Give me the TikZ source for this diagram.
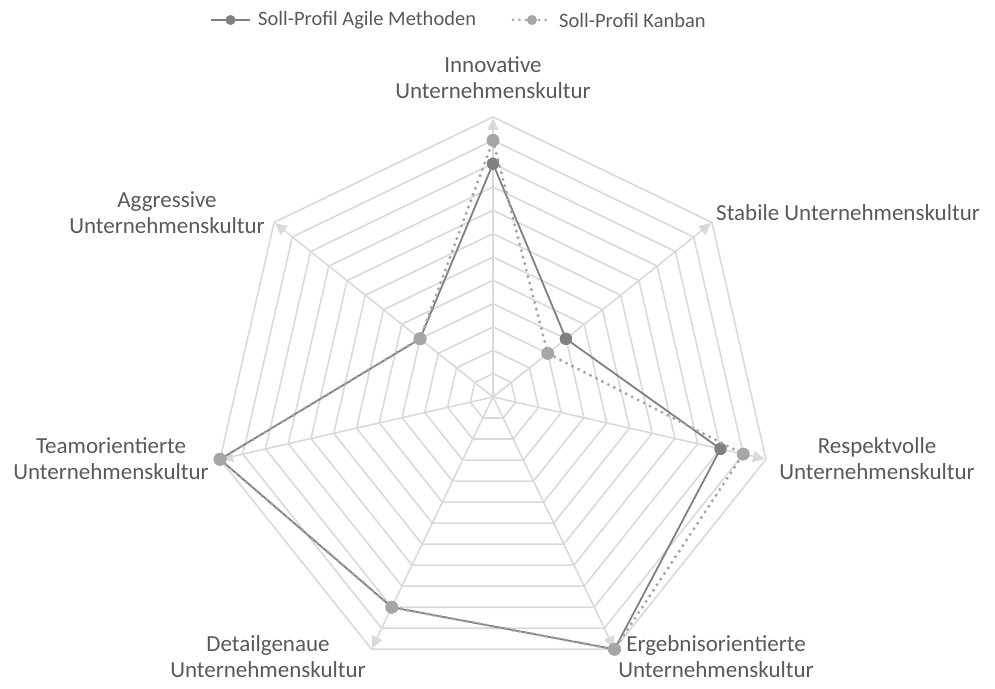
\documentclass[tikz,border=0pt]{standalone}
\usepackage{fontspec}
\setmainfont{Carlito}
\usetikzlibrary{arrows.meta}
\definecolor{gridgray}{HTML}{D9D9D9}
\definecolor{agilegray}{HTML}{808080}
\definecolor{kanbangray}{HTML}{A6A6A6}
\definecolor{labelgray}{HTML}{595959}

\begin{document}
\begin{tikzpicture}[x=1pt,y=1pt,
  ring/.style={draw=gridgray, line width=1.6pt, line join=miter},
  spoke/.style={draw=gridgray, line width=1.6pt, -{Triangle[length=12pt,width=11pt]}},
  agileline/.style={draw=agilegray, line width=1.8pt, line join=round},
  kanbanline/.style={draw=kanbangray, line width=3.4pt, dash pattern=on 0pt off 6.7pt, line cap=round},
  agiledot/.style={circle, fill=agilegray, inner sep=0pt, minimum size=12.5pt},
  kanbandot/.style={circle, fill=kanbangray, inner sep=0pt, minimum size=13pt},
  legdot/.style={circle, inner sep=0pt, minimum size=10pt},
  axislabel/.style={text=labelgray, font=\fontsize{23}{26}\selectfont, align=center, inner sep=0pt},
  legtext/.style={text=labelgray, font=\fontsize{20.5}{24}\selectfont, anchor=west, inner sep=0pt},
]
\useasboundingbox (0,0) rectangle (995,688);
\def\R{280}
\def\st{23.3333}
\coordinate (C) at (493,291);

\begin{scope}[shift={(C)}]
  % concentric heptagons of the scale
  \foreach \i in {1,...,12} {
    \pgfmathsetmacro\r{\R*\i/12}
    \draw[ring] (90:\r) \foreach \k in {1,...,6} { -- ({90-\k*360/7}:\r) } -- cycle;
  }
  % axes
  \foreach \k in {0,...,6} {
    \draw[spoke] (0,0) -- ({90-\k*360/7}:{\R-1});
  }

  % data points: Agile Methoden
  \foreach \v [count=\k from 0] in {10,4,10,12,10,12,4} {
    \coordinate (a\k) at ({90-\k*360/7}:{\v*\st});
  }
  % data points: Kanban
  \foreach \v [count=\k from 0] in {11,3,11,12,10,12,4} {
    \coordinate (b\k) at ({90-\k*360/7}:{\v*\st});
  }
\end{scope}

\draw[agileline] (a0) -- (a1) -- (a2) -- (a3) -- (a4) -- (a5) -- (a6) -- cycle;
\foreach \k in {0,...,6} { \node[agiledot] (pa\k) at (a\k) {}; }
\draw[kanbanline] (b0) -- (b1) -- (b2) -- (b3) -- (b4) -- (b5) -- (b6) -- cycle;
\foreach \k in {0,...,6} { \node[kanbandot] (pb\k) at (b\k) {}; }

% axis labels
\node[axislabel] (l0) at (493,610) {Innovative\\Unternehmenskultur};
\node[axislabel, anchor=west] (l1) at (716,475) {Stabile Unternehmenskultur};
\node[axislabel] (l2) at (877,229) {Respektvolle\\Unternehmenskultur};
\node[axislabel] (l3) at (716,31) {Ergebnisorientierte\\Unternehmenskultur};
\node[axislabel] (l4) at (268,31) {Detailgenaue\\Unternehmenskultur};
\node[axislabel] (l5) at (111,229) {Teamorientierte\\Unternehmenskultur};
\node[axislabel] (l6) at (167,475) {Aggressive\\Unternehmenskultur};

% legend
\coordinate (la1) at (211,668);
\coordinate (la2) at (250,668);
\draw[agileline] (la1) -- (la2);
\node[legdot, fill=agilegray] (lad) at (230.5,668) {};
\node[legtext] (lat) at (258,668) {Soll-Profil Agile Methoden};
\coordinate (lb1) at (513,668);
\coordinate (lb2) at (551,668);
\draw[kanbanline, line width=3pt, dash pattern=on 0pt off 6.5pt] (lb1) -- (lb2);
\node[legdot, fill=kanbangray] (lbd) at (532,668) {};
\node[legtext] (lbt) at (559,668) {Soll-Profil Kanban};
\end{tikzpicture}
\end{document}
